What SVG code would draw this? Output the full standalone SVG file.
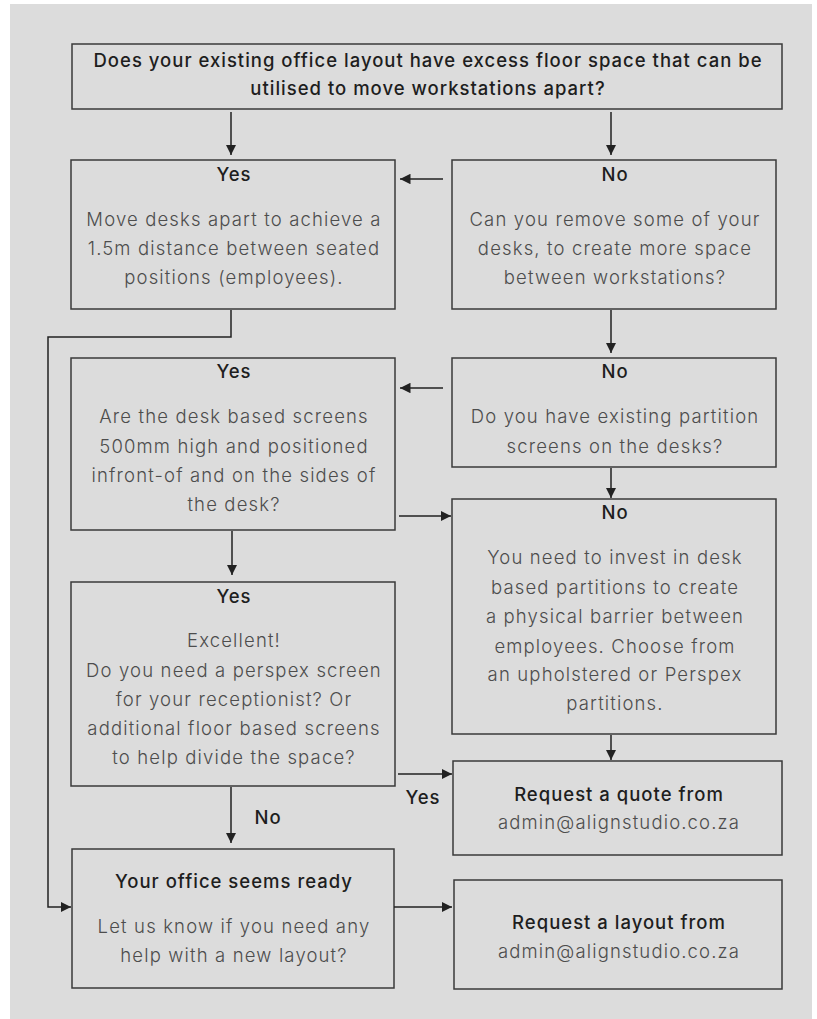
<svg xmlns="http://www.w3.org/2000/svg" width="817" height="1019" viewBox="0 0 817 1019">
<style>
.box{fill:#dcdcdc;stroke:#3a3a3a;stroke-width:1.5}
.h{font-family:Inter,"Open Sans",sans-serif;font-size:18.5px;font-weight:500;letter-spacing:1px;fill:#1e1e1e;text-anchor:middle}
.b{font-family:Inter,"Open Sans",sans-serif;font-size:18.5px;font-weight:300;letter-spacing:1.15px;fill:#4d4d4d;text-anchor:middle}
.c{fill:none;stroke:#222;stroke-width:1.5}
</style>
<defs>
<marker id="ah" viewBox="0 0 10 10" refX="10" refY="5" markerWidth="7" markerHeight="7" markerUnits="strokeWidth" orient="auto">
<path d="M0,0 L10,5 L0,10 Z" fill="#222"/>
</marker>
</defs>
<rect x="10" y="4" width="802" height="1020" fill="#dcdcdc"/>

<g id="q1">
<rect class="box" x="72" y="44" width="710" height="65"/>
<text class="h" x="428" y="67">Does your existing office layout have excess floor space that can be</text>
<text class="h" x="428" y="95">utilised to move workstations apart?</text>
</g>

<g id="yes1">
<rect class="box" x="71" y="160" width="324" height="149"/>
<text class="h" x="234" y="181">Yes</text>
<text class="b" x="234" y="226">Move desks apart to achieve a</text>
<text class="b" x="234" y="255">1.5m distance between seated</text>
<text class="b" x="234" y="284">positions (employees).</text>
</g>

<g id="no1">
<rect class="box" x="452" y="160" width="324" height="149"/>
<text class="h" x="615" y="181">No</text>
<text class="b" x="615" y="226">Can you remove some of your</text>
<text class="b" x="615" y="255">desks, to create more space</text>
<text class="b" x="615" y="284">between workstations?</text>
</g>

<g id="yes2">
<rect class="box" x="71" y="358" width="324" height="172"/>
<text class="h" x="234" y="378">Yes</text>
<text class="b" x="234" y="423">Are the desk based screens</text>
<text class="b" x="234" y="453">500mm high and positioned</text>
<text class="b" x="234" y="482">infront-of and on the sides of</text>
<text class="b" x="234" y="511">the desk?</text>
</g>

<g id="no2">
<rect class="box" x="452" y="358" width="324" height="109"/>
<text class="h" x="615" y="378">No</text>
<text class="b" x="615" y="423">Do you have existing partition</text>
<text class="b" x="615" y="453">screens on the desks?</text>
</g>

<g id="no3">
<rect class="box" x="452" y="499" width="324" height="235"/>
<text class="h" x="615" y="519">No</text>
<text class="b" x="615" y="564">You need to invest in desk</text>
<text class="b" x="615" y="594">based partitions to create</text>
<text class="b" x="615" y="623">a physical barrier between</text>
<text class="b" x="615" y="653">employees. Choose from</text>
<text class="b" x="615" y="681">an upholstered or Perspex</text>
<text class="b" x="615" y="710">partitions.</text>
</g>

<g id="yes3">
<rect class="box" x="71" y="582" width="324" height="204"/>
<text class="h" x="234" y="603">Yes</text>
<text class="b" x="234" y="647">Excellent!</text>
<text class="b" x="234" y="677">Do you need a perspex screen</text>
<text class="b" x="234" y="706">for your receptionist? Or</text>
<text class="b" x="234" y="735">additional floor based screens</text>
<text class="b" x="234" y="764">to help divide the space?</text>
</g>

<g id="quote">
<rect class="box" x="453" y="761" width="329" height="94"/>
<text class="h" x="619" y="801">Request a quote from</text>
<text class="b" x="619" y="829">admin@alignstudio.co.za</text>
</g>

<g id="ready">
<rect class="box" x="72" y="849" width="322" height="139"/>
<text class="h" x="234" y="888">Your office seems ready</text>
<text class="b" x="234" y="933">Let us know if you need any</text>
<text class="b" x="234" y="962">help with a new layout?</text>
</g>

<g id="layout">
<rect class="box" x="454" y="880" width="328" height="109"/>
<text class="h" x="619" y="929">Request a layout from</text>
<text class="b" x="619" y="958">admin@alignstudio.co.za</text>
</g>

<g id="connectors">
<path class="c" d="M231,112 V155" marker-end="url(#ah)"/>
<path class="c" d="M611,112 V155" marker-end="url(#ah)"/>
<path class="c" d="M443,179 H400" marker-end="url(#ah)"/>
<path class="c" d="M231,310 V337 H48 V907 H71" marker-end="url(#ah)"/>
<path class="c" d="M611,310 V353" marker-end="url(#ah)"/>
<path class="c" d="M443,388 H400" marker-end="url(#ah)"/>
<path class="c" d="M611,468 V498" marker-end="url(#ah)"/>
<path class="c" d="M399,516 H451" marker-end="url(#ah)"/>
<path class="c" d="M232,531 V575" marker-end="url(#ah)"/>
<path class="c" d="M611,735 V760" marker-end="url(#ah)"/>
<path class="c" d="M398,774 H452" marker-end="url(#ah)"/>
<path class="c" d="M231,787 V843" marker-end="url(#ah)"/>
<path class="c" d="M394,907 H452" marker-end="url(#ah)"/>
<text class="h" x="423" y="804">Yes</text>
<text class="h" x="268" y="824">No</text>
</g>
</svg>
